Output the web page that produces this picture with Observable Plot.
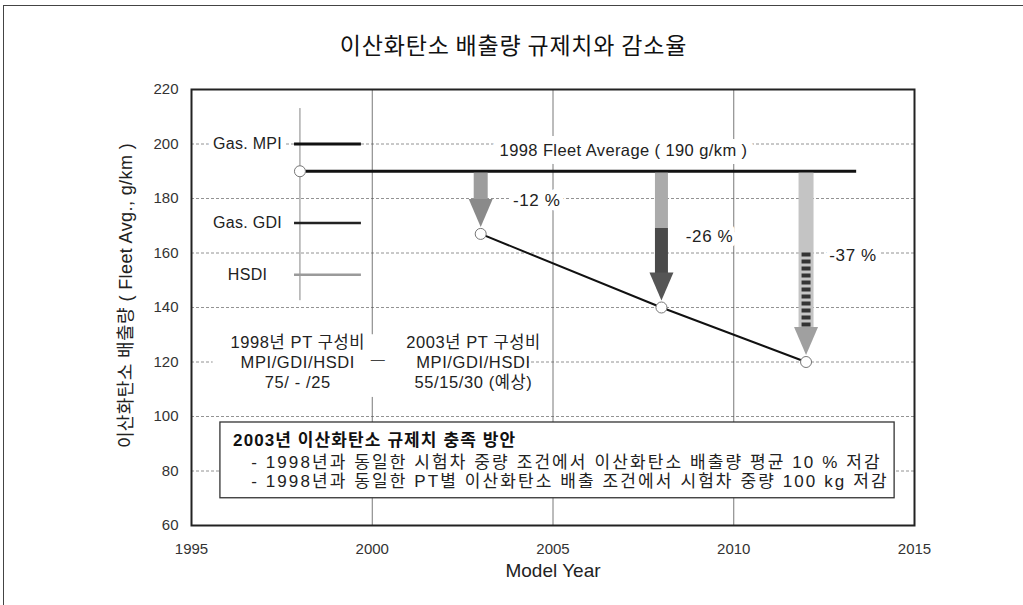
<!DOCTYPE html>
<html><head><meta charset="utf-8">
<script src="https://cdn.jsdelivr.net/npm/d3@7"></script>
<script src="https://cdn.jsdelivr.net/npm/@observablehq/plot@0.6"></script>
<style>
body{margin:0;background:#fff;font-family:'Liberation Sans','Noto Sans CJK KR',sans-serif;}
#wrap{position:absolute;left:3px;top:5px;width:1019px;height:600px;border-left:1px solid #444;border-top:1px solid #444;}
#title{position:absolute;left:0;top:23px;width:1019px;text-align:center;font-family:'Noto Sans CJK KR',sans-serif;font-size:23px;letter-spacing:0.8px;line-height:30px;color:#111;}
#chart{position:absolute;left:0;top:54px;}
</style></head>
<body><div id="wrap"><div id="title">이산화탄소 배출량 규제치와 감소율</div><div id="chart"></div></div>
<script>
// ---- data ----
const titleText = "이산화탄소 배출량 규제치와 감소율";
const yLabel = "이산화탄소 배출량 ( Fleet Avg., g/km )";
const xLabel = "Model Year";
const xTicks = [1995, 2000, 2005, 2010, 2015];
const yTicks = [60, 80, 100, 120, 140, 160, 180, 200, 220];
const yGrid = [80, 100, 120, 140, 160, 180, 200];
const xGrid = [2000, 2005, 2010];
const baseYear = 1998;
const baseValue = 190;
const fleetLabel = "1998 Fleet Average ( 190 g/km )";
const years = [2003, 2008, 2012];
const targets = [167, 140, 120];
const reductions = ["-12 %", "-26 %", "-37 %"];
const ptTypes = ["Gas. MPI", "Gas. GDI", "HSDI"];
const ptLevels = [200, 171, 152];
const mix1998 = "1998년 PT 구성비\nMPI/GDI/HSDI\n75/ - /25";
const mix2003 = "2003년 PT 구성비\nMPI/GDI/HSDI\n55/15/30 (예상)";
const boxTitle = "2003년 이산화탄소 규제치 충족 방안";
const boxItems = [
  "- 1998년과 동일한 시험차 중량 조건에서 이산화탄소 배출량 평균 10 % 저감",
  "- 1998년과 동일한 PT별 이산화탄소 배출 조건에서 시험차 중량 100 kg 저감"
];

// ---- annotation anchors (data units) ----
const fleetEnd = 2013.4;
const fleetLabelAt = [2006.95, 197.6];
const reductionAt = [[2004.55, 179.3], [2009.33, 166.1], [2013.3, 159.1]];
const ptLineSpan = [1997.85, 1999.7];
const ptLabelX = 1996.55;
const baseRuleSpan = [142.5, 213];
const mixAt = [[1997.94, 120.2], [2002.8, 120.2]];
const mixDashAt = [2000.15, 121.0];
const mixBlank = [1995.6, 2004.3, 107, 130];
const box = [1995.8, 2014.45, 70, 97.8];
const boxTitleAt = [1996.15, 91.2];
const boxItemsAt = [[1996.65, 83.1], [1996.65, 76.1]];
const yLabelAt = 144.4;

// ---- styles ----
const ptColors = ["#111", "#222", "#9a9a9a"];
const ptWidths = [3, 2.5, 2.5];
const font = "'Liberation Sans','Noto Sans CJK KR',sans-serif";
const halo = {stroke: "white", strokeWidth: 10, paintOrder: "stroke", fill: "#222"};
const spacing = [
  [boxTitle, 1.1], [boxItems[0], 2.1], [boxItems[1], 2.1],
  ["1998년 PT", 0.6], ["2003년 PT", 0.6], [fleetLabel, 0.4],
  ["-12", 0.6], ["-26", 0.6], ["-37", 0.6], ["Gas.", 0.3], ["HSDI", 0.3],
  [yLabel, 0.4]
];

const idx = years.map((_, i) => i);

const chart = Plot.plot({
  width: 1019, height: 545,
  marginTop: 29, marginBottom: 80, marginLeft: 187, marginRight: 109,
  x: {domain: [1995, 2015]},
  y: {domain: [60, 220]},
  style: {fontFamily: font, fontSize: "15px", color: "#222", background: "white", overflow: "visible"},
  marks: [
    Plot.ruleY(yGrid, {stroke: "#777", strokeWidth: 0.8, strokeDasharray: "3,2"}),
    Plot.ruleX(xGrid, {stroke: "#555", strokeWidth: 0.8}),
    Plot.rect([0], {x1: mixBlank[0], x2: mixBlank[1], y1: mixBlank[2], y2: mixBlank[3], fill: "white"}),
    Plot.rect([0], {x1: box[0], x2: box[1], y1: box[2], y2: box[3], fill: "white", stroke: "#333", strokeWidth: 1.3}),
    Plot.ruleX([baseYear], {y1: baseRuleSpan[0], y2: baseRuleSpan[1], stroke: "#666", strokeWidth: 0.8}),
    // PT legend lines and labels
    Plot.ruleY(ptLevels, {x1: ptLineSpan[0], x2: ptLineSpan[1], stroke: (d, i) => ptColors[i], strokeWidth: (d, i) => ptWidths[i]}),
    Plot.text(ptTypes, {x: ptLabelX, y: (d, i) => ptLevels[i], text: d => d, fontSize: 16, ...halo}),
    // fleet average
    Plot.ruleY([baseValue], {x1: baseYear, x2: fleetEnd, stroke: "#111", strokeWidth: 3, insetLeft: 6}),
    Plot.text([fleetLabel], {x: fleetLabelAt[0], y: fleetLabelAt[1], text: d => d, fontSize: 16.5, stroke: "white", strokeWidth: 16, paintOrder: "stroke", fill: "#222"}),
    // arrows: shafts
    Plot.ruleX([idx[0]], {x: i => years[i], y1: baseValue, y2: i => targets[i], stroke: "#9d9d9d", strokeWidth: 14, insetTop: 2, insetBottom: 33}),
    Plot.ruleX([idx[1]], {x: i => years[i], y1: baseValue, y2: 169, stroke: "#ababab", strokeWidth: 13, insetTop: 2}),
    Plot.ruleX([idx[1]], {x: i => years[i], y1: 169, y2: i => targets[i], stroke: "#4a4a4a", strokeWidth: 13, insetBottom: 33}),
    Plot.ruleX([idx[2]], {x: i => years[i], y1: baseValue, y2: i => targets[i], stroke: "#c4c4c4", strokeWidth: 15, insetTop: 2, insetBottom: 30}),
    Plot.ruleX([idx[2]], {x: i => years[i], y1: 160, y2: 127, stroke: "#333", strokeWidth: 9, strokeDasharray: "4,3"}),
    // arrow heads
    Plot.vector(idx, {x: i => years[i], y: i => targets[i], length: 28, rotate: 180, shape: "spike", r: 12, anchor: "end", dy: -7,
      fill: i => ["#8a8a8a", "#555", "#a0a0a0"][i], stroke: "none"}),
    // reduction path
    Plot.line(idx, {x: i => years[i], y: i => targets[i], stroke: "#111", strokeWidth: 2}),
    Plot.dot([baseYear], {x: d => d, y: baseValue, r: 5.5, fill: "white", stroke: "#777", strokeWidth: 1}),
    Plot.dot(idx, {x: i => years[i], y: i => targets[i], r: 5.5, fill: "white", stroke: "#777", strokeWidth: 1}),
    Plot.text(reductions, {x: (d, i) => reductionAt[i][0], y: (d, i) => reductionAt[i][1], text: d => d, fontSize: 17, ...halo}),
    // PT mix blocks
    Plot.text([mix1998, mix2003], {x: (d, i) => mixAt[i][0], y: (d, i) => mixAt[i][1], text: d => d, fontSize: 16.5, lineHeight: 1.22, fill: "#222"}),
    Plot.text(["—"], {x: mixDashAt[0], y: mixDashAt[1], text: d => d, fontSize: 14, fill: "#444"}),
    // box texts
    Plot.text([boxTitle], {x: boxTitleAt[0], y: boxTitleAt[1], text: d => d, textAnchor: "start", fontSize: 17, fontWeight: "bold", fill: "#111"}),
    Plot.text(boxItems, {x: (d, i) => boxItemsAt[i][0], y: (d, i) => boxItemsAt[i][1], text: d => d, textAnchor: "start", fontSize: 17, fill: "#222"}),
    // axes
    Plot.axisX(xTicks, {tickSize: 0, tickPadding: 18, tickFormat: d => String(d), fontSize: 15, fill: "#333", label: null}),
    Plot.axisY(yTicks, {tickSize: 0, tickPadding: 13, fontSize: 15, fill: "#333", label: null}),
    Plot.text([xLabel], {frameAnchor: "bottom", dy: 51, text: d => d, fontSize: 19, fill: "#222"}),
    Plot.text([yLabel], {frameAnchor: "left", y: yLabelAt, dx: -65, rotate: -90, textAnchor: "middle", text: d => d, fontSize: 18, fill: "#222"}),
    Plot.frame({stroke: "#222", strokeWidth: 2})
  ]
});
chart.querySelectorAll("text").forEach(t => {
  const s = t.textContent;
  for (const [key, ls] of spacing) {
    if (s.startsWith(key)) { t.setAttribute("letter-spacing", ls); break; }
  }
});
document.getElementById("chart").appendChild(chart);
</script></body></html>
